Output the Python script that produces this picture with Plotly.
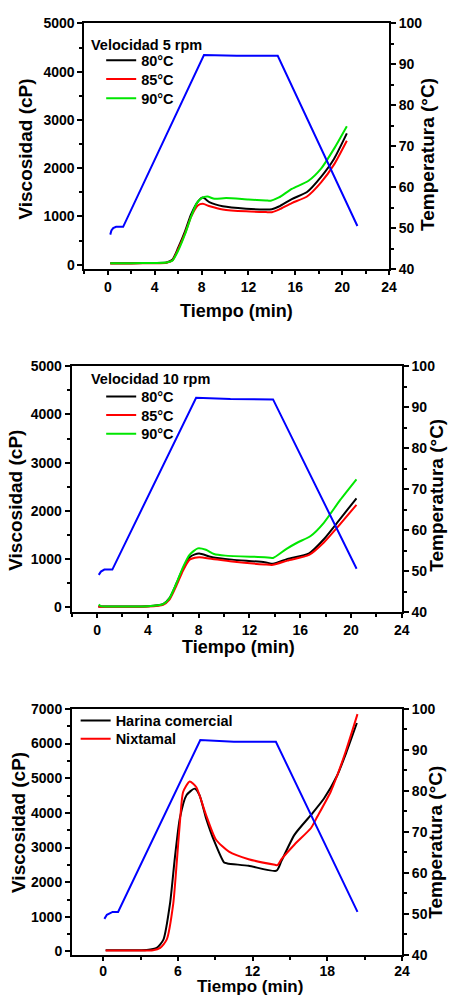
import plotly.graph_objects as go

# ---------------- Panel 1: Velocidad 5 rpm ----------------
p1_temp_t = [0.2, 0.3, 0.45, 0.7, 1.3, 8.2, 11.0, 14.5, 21.3]
p1_temp_v = [48.5, 49.5, 50.1, 50.4, 50.4, 92.3, 92.1, 92.1, 50.6]

p1_t = [0.2, 2, 4, 5.0, 5.5, 6.0, 6.6, 7.1, 7.7, 8.1, 8.7, 9.8, 11.8, 13.5, 14.0, 14.6, 15.7, 17.0, 18.2, 19.3, 20.4]
p1_80 = [30, 30, 35, 45, 100, 350, 700, 1040, 1310, 1390, 1290, 1210, 1160, 1145, 1150, 1205, 1360, 1505, 1820, 2190, 2720]
p1_85 = [25, 25, 30, 40, 85, 320, 660, 990, 1230, 1260, 1210, 1145, 1105, 1090, 1087, 1140, 1277, 1413, 1705, 2073, 2570]
p1_90_t = [0.2, 2, 4, 5.0, 5.5, 6.0, 6.6, 7.1, 7.6, 8.0, 8.5, 9.1, 10.1, 12.0, 13.5, 13.9, 14.6, 15.7, 17.1, 18.2, 19.3, 20.4]
p1_90 = [30, 30, 35, 45, 80, 290, 640, 990, 1280, 1380, 1410, 1365, 1380, 1350, 1330, 1325, 1392, 1570, 1733, 1990, 2400, 2870]

# ---------------- Panel 2: Velocidad 10 rpm ----------------
p2_temp_t = [0.13, 0.3, 0.57, 1.2, 7.8, 10.5, 13.86, 20.44]
p2_temp_v = [49.1, 49.9, 50.4, 50.4, 92.3, 92.0, 91.9, 50.6]

p2_t = [0.1, 2, 4, 5.2, 5.7, 6.25, 6.76, 7.28, 7.7, 8.05, 9.08, 10.63, 13.2, 13.86, 15.0, 16.7, 17.86, 18.9, 20.43]
p2_80 = [20, 20, 22, 67, 190, 495, 800, 1040, 1100, 1115, 1040, 990, 937, 905, 1005, 1121, 1413, 1753, 2262]
p2_85 = [15, 15, 18, 55, 160, 450, 760, 990, 1030, 1040, 1005, 950, 889, 882, 970, 1087, 1345, 1651, 2126]
p2_90_t = [0.13, 0.3, 2, 4, 5.2, 5.7, 6.25, 6.76, 7.28, 7.93, 8.57, 9.21, 10.1, 13.2, 13.86, 14.89, 15.79, 16.82, 17.86, 19.15, 20.43]
p2_90 = [60, 25, 20, 22, 67, 190, 500, 830, 1090, 1223, 1195, 1107, 1073, 1040, 1025, 1209, 1345, 1480, 1753, 2228, 2656]

# ---------------- Panel 3: Harina comercial vs Nixtamal ----------------
p3_temp_t = [0.1, 0.3, 0.76, 1.2, 7.8, 10.5, 13.87, 20.42]
p3_temp_v = [48.8, 49.8, 50.5, 50.5, 92.4, 92.0, 92.0, 50.5]

p3_hc_t = [0.2, 2, 3.5, 4.3, 4.84, 5.37, 5.76, 6.16, 6.69, 7.34, 7.74, 8.26, 8.92, 9.71, 9.97, 11.68, 13.92, 14.32, 15.37, 16.69, 17.73, 18.79, 19.5, 20.37]
p3_hc = [35, 35, 45, 104, 341, 1384, 2711, 3848, 4510, 4700, 4510, 3848, 3183, 2569, 2541, 2473, 2331, 2615, 3373, 3942, 4416, 5079, 5720, 6593]
p3_nx_t = [0.2, 2, 4, 4.58, 5.1, 5.63, 5.9, 6.21, 6.42, 6.95, 7.47, 8.26, 9.05, 10.1, 11.68, 13.79, 14.0, 14.32, 15.37, 16.69, 17.2, 18.26, 18.79, 19.5, 20.42]
p3_nx = [30, 30, 35, 104, 341, 1384, 2521, 3942, 4604, 4908, 4746, 3942, 3231, 2882, 2663, 2501, 2490, 2663, 3089, 3564, 3894, 4604, 5079, 5800, 6849]

x_ticks_a = [0, 4, 8, 12, 16, 20, 24]
x_ticks_b = [0, 6, 12, 18, 24]

FONT = "Liberation Sans, Arial, sans-serif"
W, H = 453, 1003
BLUE, BLACK, RED, GREEN = "#0000ff", "#000000", "#ff0000", "#00e600"

fig = go.Figure()

def px_x(v):
    return v / W

def px_y(v):
    return 1 - v / H

legfont = dict(family=FONT, size=14.5, color="black", weight="bold")
legends = {}

def add_line(x, y, color, name, xa, ya, legend=None, shape="spline"):
    show = legend is not None
    if show:
        key, lx, ly = legend
        legends[key] = dict(x=px_x(lx), y=px_y(ly), xanchor="left", yanchor="middle",
                            bgcolor="rgba(0,0,0,0)", font=legfont, borderwidth=0)
    fig.add_trace(go.Scatter(
        x=x, y=y, mode="lines", name=name,
        line=dict(color=color, width=2, shape=shape, smoothing=0.6 if shape == "spline" else None),
        xaxis=xa, yaxis=ya, showlegend=show,
        legend=legend[0] if show else "legend", hoverinfo="skip"))

LX1 = 103
# Panel 1
add_line(p1_temp_t, p1_temp_v, BLUE, "T", "x", "y2", shape="linear")
add_line(p1_t, p1_80, BLACK, "80°C", "x", "y", legend=("legend", LX1, 53.3))
add_line(p1_t, p1_85, RED, "85°C", "x", "y", legend=("legend2", LX1, 72.3))
add_line(p1_90_t, p1_90, GREEN, "90°C", "x", "y", legend=("legend3", LX1, 91.7))
# Panel 2
add_line(p2_temp_t, p2_temp_v, BLUE, "T", "x2", "y4", shape="linear")
add_line(p2_t, p2_80, BLACK, "80°C", "x2", "y3", legend=("legend4", LX1, 395))
add_line(p2_t, p2_85, RED, "85°C", "x2", "y3", legend=("legend5", LX1, 413.7))
add_line(p2_90_t, p2_90, GREEN, "90°C", "x2", "y3", legend=("legend6", LX1, 432.7))
# Panel 3
add_line(p3_temp_t, p3_temp_v, BLUE, "T", "x3", "y6", shape="linear")
add_line(p3_hc_t, p3_hc, BLACK, "Harina comercial", "x3", "y5", legend=("legend7", 77, 724))
add_line(p3_nx_t, p3_nx, RED, "Nixtamal", "x3", "y5", legend=("legend8", 77, 742.7))

tickfont = dict(family=FONT, size=14, color="black", weight="bold")

def xaxis(domain, anchor, rng, tickvals, minor, standoff=0):
    return dict(domain=domain, anchor=anchor, range=rng, tickvals=tickvals,
                ticks="outside", ticklen=4, tickwidth=1.5, tickcolor="black",
                showline=True, linecolor="black", linewidth=2, mirror=True,
                showgrid=False, zeroline=False, tickfont=tickfont, ticklabelstandoff=standoff,
                minor=dict(dtick=minor, tick0=0, ticks="outside", ticklen=3, tickcolor="black", tickwidth=1.5, showgrid=False))

def yleft(domain, anchor, rng, dtick):
    return dict(domain=domain, anchor=anchor, range=rng, tick0=0, dtick=dtick,
                ticks="outside", ticklen=5, tickwidth=1.5, tickcolor="black",
                showline=True, linecolor="black", linewidth=2,
                showgrid=False, zeroline=False, tickfont=tickfont,
                minor=dict(dtick=dtick / 2, tick0=0, ticks="outside", ticklen=3, tickcolor="black", tickwidth=1.5, showgrid=False))

def yright(overlay, anchor):
    return dict(overlaying=overlay, anchor=anchor, side="right", range=[40, 100], tick0=40, dtick=10,
                ticks="outside", ticklen=5, tickwidth=1.5, tickcolor="black",
                showline=True, linecolor="black", linewidth=2,
                showgrid=False, zeroline=False, tickfont=tickfont,
                minor=dict(dtick=5, tick0=40, ticks="outside", ticklen=3, tickcolor="black", tickwidth=1.5, showgrid=False))

# pixel geometry of the three panels
d1x = [px_x(86), px_x(396)]
d1y = [px_y(265.7), px_y(15.7)]
d2x = [px_x(73), px_x(409)]
d2y = [px_y(614), px_y(364)]
d3x = [px_x(73.3), px_x(409.3)]
d3y = [px_y(962.3), px_y(712.3)]

fig.update_layout(
    width=W, height=H, margin=dict(l=0, r=0, t=0, b=0),
    paper_bgcolor="white", plot_bgcolor="white",
    font=dict(family=FONT, color="black"),
    xaxis=xaxis(d1x, "y", [-2, 24], x_ticks_a, 2),
    yaxis=yleft(d1y, "x", [-100, 5000], 1000),
    yaxis2=yright("y", "x"),
    xaxis2=xaxis(d2x, "y3", [-2, 24], x_ticks_a, 2),
    yaxis3=yleft(d2y, "x2", [-100, 5000], 1000),
    yaxis4=yright("y3", "x2"),
    xaxis3=xaxis(d3x, "y5", [-2.5, 24], x_ticks_b, 3, standoff=-2),
    yaxis5=yleft(d3y, "x3", [-100, 7000], 1000),
    yaxis6=yright("y5", "x3"),
    **legends,
)

title_font = dict(family=FONT, size=19, color="black", weight="bold")
xt_font = dict(family=FONT, size=18, color="black", weight="bold")
xt_font3 = dict(family=FONT, size=17, color="black", weight="bold")
ann = []
def add_ann(text, x, y, angle=0, font=title_font, xanchor="center"):
    ann.append(dict(text=text, x=px_x(x), y=px_y(y), xref="paper", yref="paper",
                    showarrow=False, textangle=angle, font=font, xanchor=xanchor, yanchor="middle",
                    borderpad=0))

add_ann("Viscosidad (cP)", 25, 143.3, -90)
add_ann("Temperatura (°C)", 435, 149, -90)
add_ann("Tiempo (min)", 241, 308.3, font=xt_font)
add_ann("Velocidad 5 rpm", 92, 37.7, font=legfont, xanchor="left")

add_ann("Viscosidad (cP)", 15, 500, -90)
add_ann("Temperatura (°C)", 444, 495.5, -90)
add_ann("Tiempo (min)", 243, 649.5, font=xt_font)
add_ann("Velocidad 10 rpm", 92, 376.7, font=legfont, xanchor="left")

add_ann("Viscosidad (cP)", 19, 827.5, -90)
add_ann("Temperatura (°C)", 443, 848, -90)
add_ann("Tiempo (min)", 254, 994.5, font=xt_font3)

fig.update_layout(annotations=ann)

fig.write_html("out.html", config={"displayModeBar": False},
               post_script="document.body.style.margin='0';document.body.style.overflow='hidden';")
